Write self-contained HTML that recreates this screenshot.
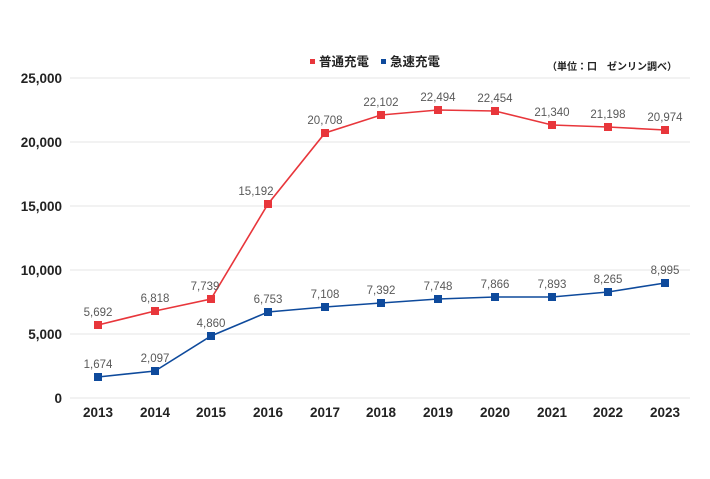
<!DOCTYPE html>
<html><head><meta charset="utf-8"><style>
body{margin:0;background:#fff;width:710px;height:474px;overflow:hidden}
svg{font-family:"Liberation Sans","Noto Sans CJK JP",sans-serif}
</style></head><body>
<svg width="710" height="474" xmlns="http://www.w3.org/2000/svg">
<g stroke="#e6e6e6" stroke-width="1">
<line x1="70" x2="690" y1="78" y2="78"/><line x1="70" x2="690" y1="142" y2="142"/>
<line x1="70" x2="690" y1="206" y2="206"/><line x1="70" x2="690" y1="270" y2="270"/>
<line x1="70" x2="690" y1="334" y2="334"/><line x1="70" x2="690" y1="398" y2="398"/>
</g>
<g font-size="13.5" font-weight="bold" fill="#222" text-anchor="end">
<text x="62" y="83">25,000</text><text x="62" y="147">20,000</text><text x="62" y="211">15,000</text>
<text x="62" y="275">10,000</text><text x="62" y="339">5,000</text><text x="62" y="403">0</text>
</g>
<g font-size="13.5" font-weight="bold" fill="#222" text-anchor="middle">
<text x="98" y="417">2013</text><text x="155" y="417">2014</text><text x="211" y="417">2015</text>
<text x="268" y="417">2016</text><text x="325" y="417">2017</text><text x="381" y="417">2018</text>
<text x="438" y="417">2019</text><text x="495" y="417">2020</text><text x="552" y="417">2021</text>
<text x="608" y="417">2022</text><text x="665" y="417">2023</text>
</g>
<polyline fill="none" stroke="#e8363b" stroke-width="1.6" points="98,325 155,311 211,299 268,204 325,133 381,115 438,110 495,111 552,125 608,127 665,130"/>
<polyline fill="none" stroke="#0e4a9c" stroke-width="1.6" points="98,377 155,371 211,336 268,312 325,307 381,303 438,299 495,297 552,297 608,292 665,283"/>
<g fill="#e8363b">
<rect x="94" y="321" width="8" height="8"/><rect x="151" y="307" width="8" height="8"/><rect x="207" y="295" width="8" height="8"/>
<rect x="264" y="200" width="8" height="8"/><rect x="321" y="129" width="8" height="8"/><rect x="377" y="111" width="8" height="8"/>
<rect x="434" y="106" width="8" height="8"/><rect x="491" y="107" width="8" height="8"/><rect x="548" y="121" width="8" height="8"/>
<rect x="604" y="123" width="8" height="8"/><rect x="661" y="126" width="8" height="8"/>
</g>
<g fill="#0e4a9c">
<rect x="94" y="373" width="8" height="8"/><rect x="151" y="367" width="8" height="8"/><rect x="207" y="332" width="8" height="8"/>
<rect x="264" y="308" width="8" height="8"/><rect x="321" y="303" width="8" height="8"/><rect x="377" y="299" width="8" height="8"/>
<rect x="434" y="295" width="8" height="8"/><rect x="491" y="293" width="8" height="8"/><rect x="548" y="293" width="8" height="8"/>
<rect x="604" y="288" width="8" height="8"/><rect x="661" y="279" width="8" height="8"/>
</g>
<g font-size="11.5" fill="#595959" text-anchor="middle">
<text x="98" y="316">5,692</text><text x="155" y="302">6,818</text><text x="205" y="290">7,739</text>
<text x="256" y="195">15,192</text><text x="325" y="124">20,708</text><text x="381" y="106">22,102</text>
<text x="438" y="101">22,494</text><text x="495" y="102">22,454</text><text x="552" y="116">21,340</text>
<text x="608" y="118">21,198</text><text x="665" y="121">20,974</text>
<text x="98" y="368">1,674</text><text x="155" y="362">2,097</text><text x="211" y="327">4,860</text>
<text x="268" y="303">6,753</text><text x="325" y="298">7,108</text><text x="381" y="294">7,392</text>
<text x="438" y="290">7,748</text><text x="495" y="288">7,866</text><text x="552" y="288">7,893</text>
<text x="608" y="283">8,265</text><text x="665" y="274">8,995</text>
</g>
<rect x="310" y="59" width="5" height="5" fill="#e8363b"/>
<text x="319" y="66" font-size="12.5" font-weight="bold" fill="#222">普通充電</text>
<rect x="381" y="59" width="5" height="5" fill="#0e4a9c"/>
<text x="390" y="66" font-size="12.5" font-weight="bold" fill="#222">急速充電</text>
<text x="547" y="70" font-size="10" font-weight="bold" fill="#222">（単位：口　ゼンリン調べ）</text>
</svg>
</body></html>
